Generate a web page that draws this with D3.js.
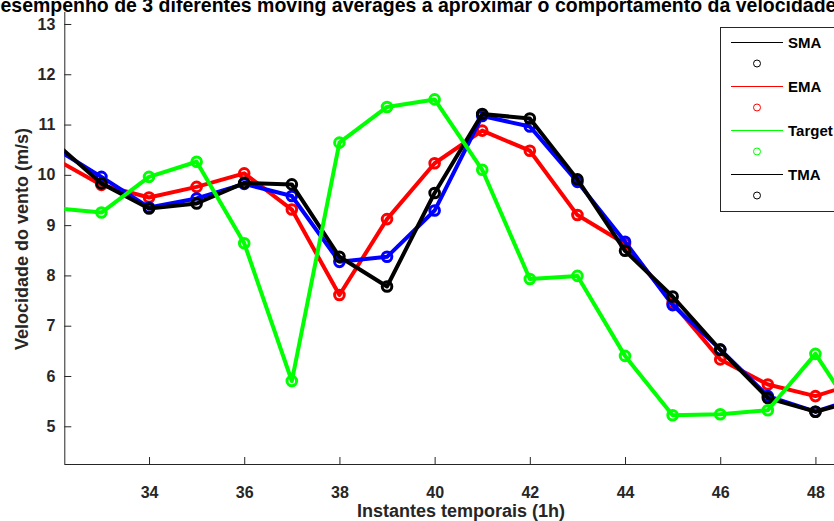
<!DOCTYPE html>
<html>
<head>
<meta charset="utf-8">
<script src="https://cdn.jsdelivr.net/npm/d3@7"></script>
<style>
  html, body { margin: 0; padding: 0; background: #fff; overflow: hidden; }
  svg { display: block; font-family: "Liberation Sans", Arial, Helvetica, sans-serif; }
</style>
</head>
<body>
<svg id="chart" width="834" height="521"></svg>
<script>
// ---- data ----
const instants = [32, 33, 34, 35, 36, 37, 38, 39, 40, 41, 42, 43, 44, 45, 46, 47, 48, 49];
const smaValues    = [10.54, 9.96, 9.35, 9.53, 9.82, 9.58, 8.27, 8.37, 9.29, 11.17, 10.96, 9.86, 8.67, 7.41, 6.53, 5.60, 5.29, 5.60];
const emaValues    = [10.33, 9.80, 9.55, 9.76, 10.03, 9.31, 7.61, 9.12, 10.23, 10.88, 10.48, 9.20, 8.63, 7.45, 6.33, 5.83, 5.60, 5.90];
const targetValues = [9.34, 9.25, 9.96, 10.26, 8.64, 5.90, 10.64, 11.35, 11.50, 10.10, 7.93, 7.99, 6.40, 5.22, 5.24, 5.32, 6.44, 5.00];
const tmaValues    = [10.66, 9.83, 9.33, 9.43, 9.84, 9.81, 8.37, 7.78, 9.64, 11.21, 11.12, 9.91, 8.49, 7.58, 6.52, 5.56, 5.29, 5.55];
const xTicks = [34, 36, 38, 40, 42, 44, 46, 48];
const yTicks = [5, 6, 7, 8, 9, 10, 11, 12, 13];
const legendLabels = ["SMA", "EMA", "Target", "TMA"];
const titleText = "Desempenho de 3 diferentes moving averages a aproximar o comportamento da velocidade do vento";
const xLabelText = "Instantes temporais (1h)";
const yLabelText = "Velocidade do vento (m/s)";

// ---- layout ----
const svg = d3.select("#chart");
const axisColor = "#262626";
const plotLeft = 64.3, plotTop = 12, plotBottom = 464;
const x = d3.scaleLinear().domain([32.22, 50]).range([plotLeft, plotLeft + (50 - 32.22) * 47.6]);
const y = d3.scaleLinear().domain([4.25, 13.25]).range([plotBottom, plotTop - 0.6]);

svg.append("defs").append("clipPath").attr("id", "plotClip")
  .append("rect").attr("x", plotLeft).attr("y", 0).attr("width", 900).attr("height", plotBottom);

// axes
const xAxis = d3.axisBottom(x).tickValues(xTicks).tickSizeInner(-7).tickSizeOuter(0).tickPadding(23);
const yAxis = d3.axisLeft(y).tickValues(yTicks).tickSizeInner(-7).tickSizeOuter(0).tickPadding(9);

const gx = svg.append("g").attr("transform", `translate(0,${plotBottom})`).call(xAxis);
const gy = svg.append("g").attr("transform", `translate(${plotLeft},0)`).call(yAxis);
[gx, gy].forEach(g => {
  g.select(".domain").attr("stroke", axisColor).attr("stroke-width", 1);
  g.selectAll(".tick line").attr("stroke", axisColor).attr("stroke-width", 1);
  g.selectAll(".tick text").attr("fill", axisColor).attr("font-size", 16).attr("font-weight", "bold")
    .attr("font-family", "Liberation Sans, Arial, sans-serif");
});
gx.select(".domain").attr("d", `M${plotLeft},0.5H900`);
gy.select(".domain").attr("d", `M0.5,${plotTop}V${plotBottom}`);

// series
const series = [
  { name: "EMA", values: emaValues, color: "#ff0000" },
  { name: "SMA", values: smaValues, color: "#0000ff" },
  { name: "TMA", values: tmaValues, color: "#000000" },
  { name: "Target", values: targetValues, color: "#00ff00" }
];
const line = d3.line().x(d => x(d[0])).y(d => y(d[1]));
const plotG = svg.append("g").attr("clip-path", "url(#plotClip)");
series.forEach(s => {
  const pts = instants.map((t, i) => [t, s.values[i]]);
  const g = plotG.append("g");
  g.append("path").datum(pts).attr("d", line).attr("fill", "none")
    .attr("stroke", s.color).attr("stroke-width", 4).attr("stroke-linejoin", "round");
  g.selectAll("circle").data(pts).join("circle")
    .attr("cx", d => x(d[0])).attr("cy", d => y(d[1])).attr("r", 4.8)
    .attr("fill", "none").attr("stroke", s.color).attr("stroke-width", 3);
});

// labels
svg.append("text").attr("x", 461).attr("y", 517).attr("text-anchor", "middle")
  .attr("font-size", 18).attr("font-weight", "bold").attr("fill", axisColor).text(xLabelText);
svg.append("text").attr("transform", "translate(28,239) rotate(-90)").attr("text-anchor", "middle")
  .attr("font-size", 18).attr("font-weight", "bold").attr("fill", axisColor).text(yLabelText);

// title: sized so that "esempenho ... velocidade" spans the visible width, as in the reference
const title = svg.append("text").attr("y", 12).attr("font-size", 17.6).attr("font-weight", "bold")
  .attr("fill", "#000").text(titleText);
const endIdx = titleText.indexOf(" do vento");
const visW = title.node().getSubStringLength(1, endIdx - 1);
const fs = 17.6 * 836 / visW;
title.attr("font-size", fs);
const dW = title.node().getSubStringLength(0, 1);
title.attr("x", -dW + 0.5);

// legend
const legendColors = ["#000000", "#ff0000", "#00ff00", "#000000"];
const lg = svg.append("g");
lg.append("rect").attr("x", 720.5).attr("y", 27.5).attr("width", 140).attr("height", 184)
  .attr("fill", "#fff").attr("stroke", axisColor).attr("stroke-width", 1);
legendLabels.forEach((lab, i) => {
  const ly = 42 + i * 44;
  lg.append("line").attr("x1", 731).attr("x2", 783).attr("y1", ly + 0.5).attr("y2", ly + 0.5)
    .attr("stroke", legendColors[i]).attr("stroke-width", 1);
  lg.append("text").attr("x", 788).attr("y", ly + 5.5).attr("font-size", 15).attr("font-weight", "bold")
    .attr("fill", "#000").text(lab);
  lg.append("circle").attr("cx", 757).attr("cy", ly + 21.5).attr("r", 3.5)
    .attr("fill", "none").attr("stroke", legendColors[i]).attr("stroke-width", 1);
});
</script>
</body>
</html>
